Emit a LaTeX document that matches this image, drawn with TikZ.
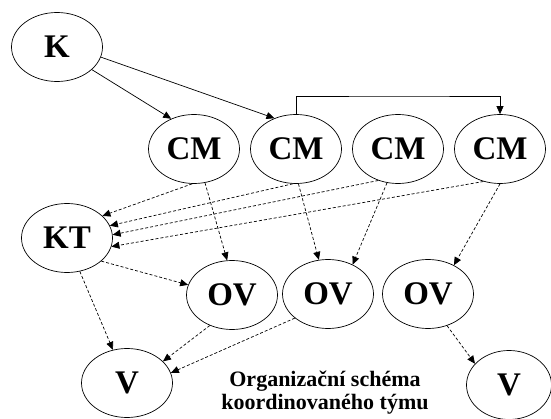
\documentclass[tikz,border=0pt]{standalone}
\usepackage{fontspec}
\setmainfont{Liberation Serif}
\usetikzlibrary{arrows.meta, shapes.geometric}

\begin{document}
\begin{tikzpicture}[x=1pt, y=-1pt, line width=0.7pt,
    >={Triangle[length=8pt,width=7pt]}]
  \tikzset{ell/.style={draw, ellipse, inner sep=0pt, minimum width=91pt,
      minimum height=69pt, font=\bfseries\fontsize{33}{33}\selectfont},
    dsh/.style={->, dash pattern=on 3pt off 2pt}}
  \useasboundingbox (0,0) rectangle (551,419);
  \node[ell] (K) at (57,47) {K};
  \node[ell] (CMa) at (194,149) {CM};
  \node[ell] (CMb) at (296,149) {CM};
  \node[ell] (CMc) at (398,149) {CM};
  \node[ell] (CMd) at (500,149) {CM};
  \node[ell] (KT) at (67,238) {KT};
  \node[ell] (OVa) at (232,295) {OV};
  \node[ell] (OVb) at (328,294) {OV};
  \node[ell] (OVc) at (428,294) {OV};
  \node[ell] (Va) at (127,383) {V};
  \node[ell, minimum width=85pt] (Vb) at (509,385) {V};
  \node[font=\bfseries\fontsize{22}{23}\selectfont, align=center] (cap)
    at (325,393) {Organizační schéma\\koordinovaného týmu};
  \coordinate (top) at (400,96);
  \draw[->] (K.-33) -- (CMa.127);
  \draw[->] (K.-13) -- (CMb.125);
  \draw[->] (CMb.north) |- (top) -| (CMd.north);
  \draw[dsh] (CMa.-93) -- (KT.32);
  \draw[dsh] (CMa.-72) -- (OVa.98);
  \draw[dsh] (CMb.-95) -- (KT.16);
  \draw[dsh] (CMb.-86) -- (OVb.105);
  \draw[dsh] (CMc.-122) -- (KT.4);
  \draw[dsh] (CMc.-108) -- (OVb.50);
  \draw[dsh] (CMd.-117) -- (KT.-11);
  \draw[dsh] (CMd.-90) -- (OVc.48);
  \draw[dsh] (KT.-34) -- (OVa.167);
  \draw[dsh] (KT.-69) -- (Va.113);
  \draw[dsh] (OVa.-126) -- (Va.31);
  \draw[dsh] (OVb.-144) -- (Va.13);
  \draw[dsh] (OVc.-59) -- (Vb.148);
\end{tikzpicture}
\end{document}
